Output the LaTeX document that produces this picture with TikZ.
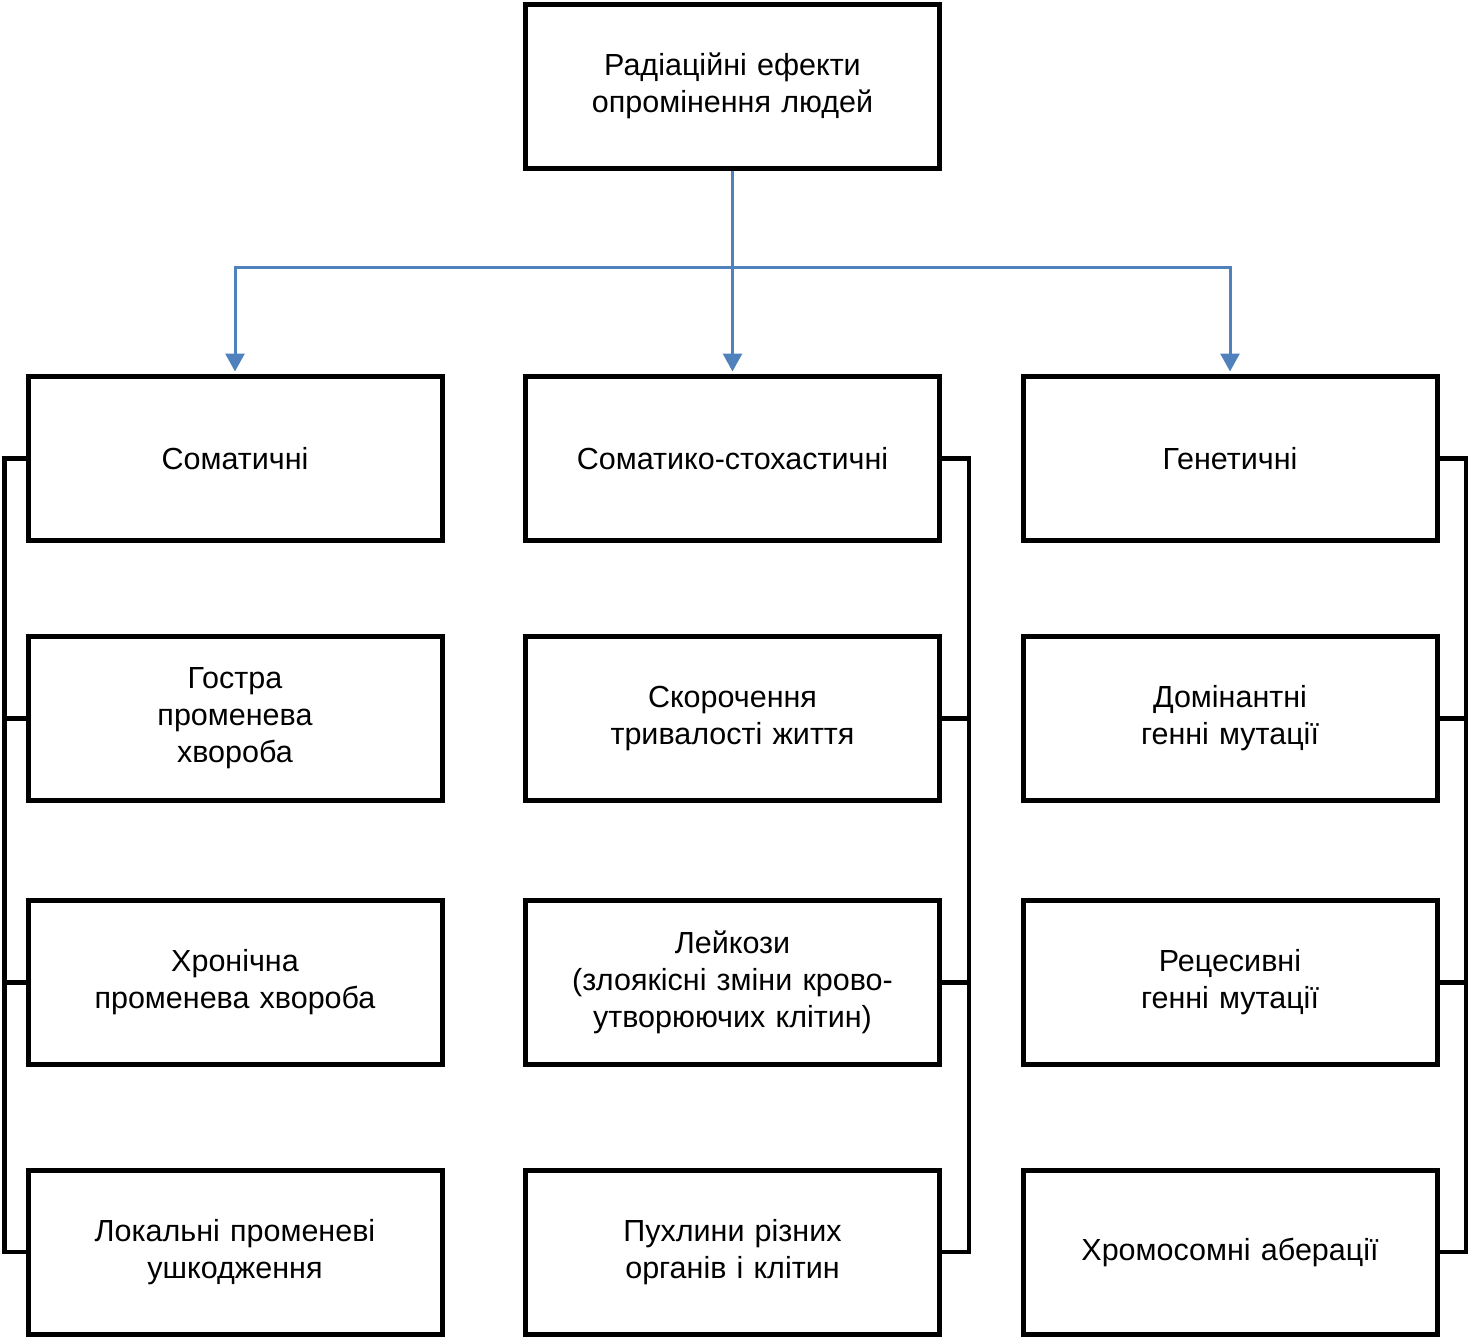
\documentclass[tikz,border=0pt]{standalone}
\usepackage{fontspec}
\setmainfont{Liberation Sans}
\usetikzlibrary{arrows.meta}
\definecolor{lineblue}{RGB}{79,129,189}
\begin{document}
\begin{tikzpicture}[x=1pt,y=-1pt,
  box/.style={draw=black,line width=5pt,minimum width=414pt,minimum height=164pt,inner sep=0pt,text width=405pt,align=center,font=\fontsize{30.5}{37}\selectfont},
  bl/.style={draw=lineblue,line width=3pt},
  blarrow/.style={bl,-{Triangle[width=19pt,length=18pt]},shorten >=2.5pt},
  br/.style={draw=black,line width=4.5pt,line join=miter}]
\useasboundingbox (0,0) rectangle (1470,1339);
\node[box] (top) at (732.5,86) {Радіаційні ефекти\\опромінення людей};
\node[box] (s1) at (235,458.5) {Соматичні};
\node[box] (m1) at (732.5,458.5) {Соматико-стохастичні};
\node[box] (g1) at (1230,458.5) {Генетичні};
\node[box] (s2) at (235,718.5) {Гостра\\променева\\хвороба};
\node[box] (m2) at (732.5,718.5) {Скорочення\\тривалості життя};
\node[box] (g2) at (1230,718.5) {Домінантні\\генні мутації};
\node[box] (s3) at (235,982.5) {Хронічна\\променева хвороба};
\node[box] (m3) at (732.5,982.5) {Лейкози\\(злоякісні зміни крово-\\утворюючих клітин)};
\node[box] (g3) at (1230,982.5) {Рецесивні\\генні мутації};
\node[box] (s4) at (235,1252) {Локальні променеві\\ушкодження};
\node[box] (m4) at (732.5,1252) {Пухлини різних\\органів і клітин};
\node[box] (g4) at (1230,1252) {Хромосомні аберації};
% blue connectors
\coordinate (j) at (732.5,267);
\draw[blarrow] (top.south) -- (m1.north);
\draw[blarrow] (j) -| (s1.north);
\draw[blarrow] (j) -| (g1.north);
% brackets
\coordinate (lx) at (4.5,0);
\coordinate (mx) at (969,0);
\coordinate (rx) at (1466,0);
\draw[br] (s1.west) -- (s1.west -| lx) -- (s4.west -| lx) -- (s4.west);
\draw[br] (s2.west) -- (s2.west -| lx);
\draw[br] (s3.west) -- (s3.west -| lx);
\draw[br] (m1.east) -- (m1.east -| mx) -- (m4.east -| mx) -- (m4.east);
\draw[br] (m2.east) -- (m2.east -| mx);
\draw[br] (m3.east) -- (m3.east -| mx);
\draw[br] (g1.east) -- (g1.east -| rx) -- (g4.east -| rx) -- (g4.east);
\draw[br] (g2.east) -- (g2.east -| rx);
\draw[br] (g3.east) -- (g3.east -| rx);
\end{tikzpicture}
\end{document}
